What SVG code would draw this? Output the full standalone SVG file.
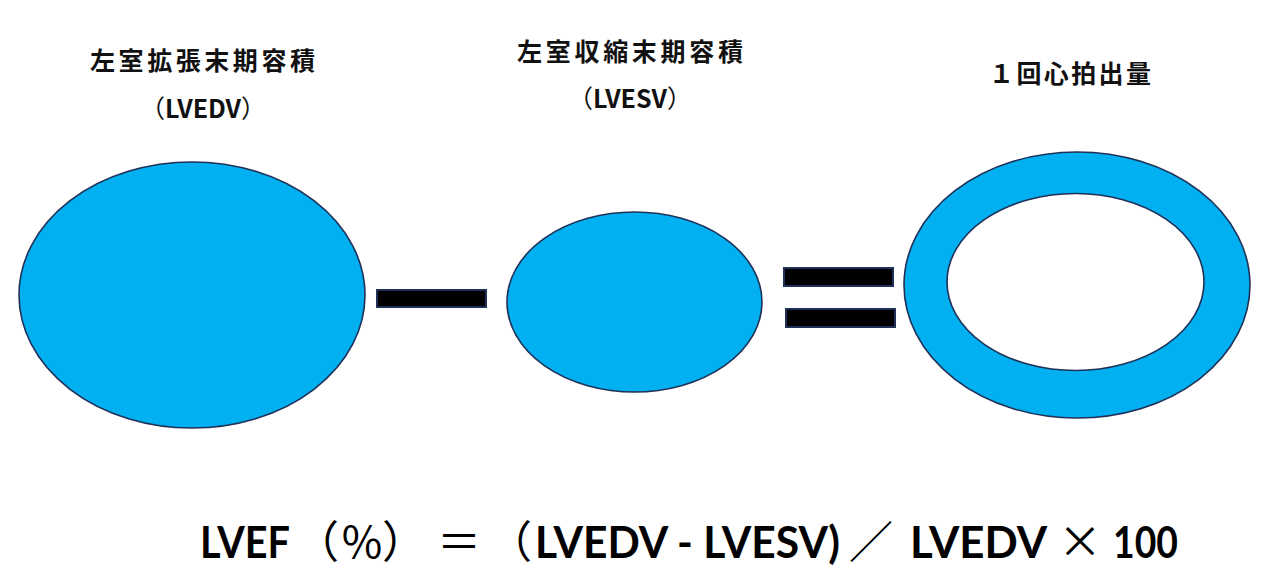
<svg xmlns="http://www.w3.org/2000/svg" width="1271" height="584" viewBox="0 0 1271 584">
<style>
.shape{fill:#00b0f0;stroke:#1f3158;stroke-width:1.6}
.bar{fill:#000;stroke:#1f3158;stroke-width:2}
.lbl{font-family:"Noto Sans CJK JP","Noto Sans",sans-serif;font-weight:bold;font-size:25px;fill:#111;text-spacing-trim:space-all}
.pn{font-weight:normal}
.lat{font-family:Lato,"Liberation Sans",sans-serif;font-weight:bold;font-size:44px;fill:#000}
.cjk{font-family:"Noto Sans CJK JP",sans-serif;font-weight:normal;font-size:44px;fill:#000;text-spacing-trim:space-all}
</style>
<rect width="1271" height="584" fill="#fff"/>
<g id="lvedv">
<ellipse class="shape" cx="192" cy="295" rx="173" ry="133"/>
<text class="lbl" x="90" y="70" textLength="225" lengthAdjust="spacing">左室拡張末期容積</text>
<text class="lbl" x="203" y="118" text-anchor="middle"><tspan class="pn">（</tspan>LVEDV<tspan class="pn">）</tspan></text>
</g>
<g id="minus">
<rect class="bar" x="377" y="290" width="109" height="17"/>
</g>
<g id="lvesv">
<ellipse class="shape" cx="634.5" cy="302" rx="127.5" ry="90"/>
<text class="lbl" x="517" y="61" textLength="226" lengthAdjust="spacing">左室収縮末期容積</text>
<text class="lbl" x="630" y="108" text-anchor="middle"><tspan class="pn">（</tspan>LVESV<tspan class="pn">）</tspan></text>
</g>
<g id="equals">
<rect class="bar" x="784" y="268" width="109" height="18"/>
<rect class="bar" x="786" y="309" width="109" height="18"/>
</g>
<g id="sv">
<path class="shape" fill-rule="evenodd" d="M904,285 a173,133 0 1,0 346,0 a173,133 0 1,0 -346,0 Z M947,282 a128.5,88.5 0 1,0 257,0 a128.5,88.5 0 1,0 -257,0 Z"/>
<text class="lbl" x="989" y="83" textLength="162" lengthAdjust="spacing">１回心拍出量</text>
</g>
<g id="formula">
<text class="lat" x="200" y="558" textLength="90" lengthAdjust="spacingAndGlyphs">LVEF</text>
<text class="cjk" x="317" y="558" text-anchor="middle">（</text>
<text class="cjk" x="362" y="558" text-anchor="middle" font-weight="bold">%</text>
<text class="cjk" x="404" y="558" text-anchor="middle">）</text>
<text class="cjk" x="459" y="558" text-anchor="middle">＝</text>
<text class="cjk" x="510" y="558" text-anchor="middle">（</text>
<text class="lat" x="535" y="558" textLength="305" lengthAdjust="spacingAndGlyphs">LVEDV - LVESV)</text>
<text class="cjk" x="871" y="558" text-anchor="middle">／</text>
<text class="lat" x="910" y="558" textLength="137" lengthAdjust="spacingAndGlyphs">LVEDV</text>
<text class="cjk" x="1080" y="558" text-anchor="middle">×</text>
<text class="lat" x="1113" y="558" textLength="65" lengthAdjust="spacingAndGlyphs">100</text>
</g>
</svg>
